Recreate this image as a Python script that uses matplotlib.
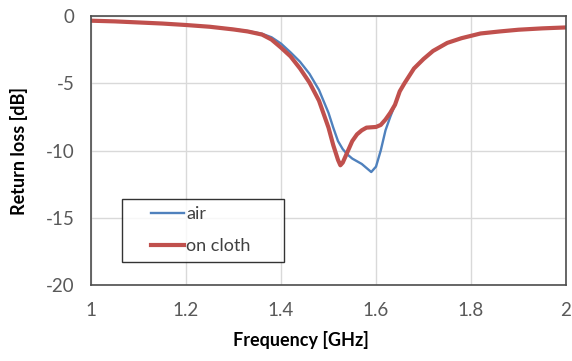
import matplotlib
matplotlib.use('Agg')
import matplotlib.pyplot as plt
from matplotlib.legend_handler import HandlerLine2D

# Данные
freq = [1.00, 1.05, 1.10, 1.15, 1.20, 1.25, 1.30, 1.33, 1.36, 1.38, 1.40, 1.42,
        1.44, 1.46, 1.48, 1.50, 1.51, 1.52, 1.53, 1.54, 1.55, 1.56, 1.57, 1.58,
        1.59, 1.60, 1.61, 1.62, 1.63, 1.64, 1.65, 1.66, 1.68, 1.70, 1.72, 1.75,
        1.78, 1.82, 1.86, 1.90, 1.95, 2.00]
air = [-0.35, -0.40, -0.48, -0.56, -0.67, -0.80, -0.98, -1.12, -1.32, -1.58, -2.05, -2.7,
       -3.4, -4.3, -5.5, -7.2, -8.3, -9.3, -9.9, -10.3, -10.6, -10.8, -11.0, -11.3,
       -11.6, -11.2, -10.0, -8.5, -7.5, -6.6, -5.6, -5.0, -3.9, -3.2, -2.6, -2.0,
       -1.65, -1.3, -1.15, -1.02, -0.92, -0.85]
freq_cloth = [1.00, 1.05, 1.10, 1.15, 1.20, 1.25, 1.30, 1.33, 1.36, 1.38, 1.40, 1.42,
              1.44, 1.46, 1.48, 1.50, 1.51, 1.52, 1.525, 1.53, 1.54, 1.55, 1.56, 1.57,
              1.58, 1.60, 1.61, 1.62, 1.63, 1.64, 1.65, 1.66, 1.68, 1.70, 1.72, 1.75,
              1.78, 1.82, 1.86, 1.90, 1.95, 2.00]
cloth = [-0.35, -0.40, -0.48, -0.56, -0.67, -0.80, -1.00, -1.15, -1.38, -1.75, -2.35, -3.0,
         -3.9, -4.95, -6.3, -8.3, -9.6, -10.7, -11.1, -10.9, -10.1, -9.3, -8.8, -8.5,
         -8.3, -8.25, -8.1, -7.7, -7.2, -6.6, -5.6, -5.0, -3.9, -3.2, -2.6, -2.0,
         -1.65, -1.3, -1.15, -1.02, -0.92, -0.85]
xticks = [1, 1.2, 1.4, 1.6, 1.8, 2]
xticklabels = ['1', '1.2', '1.4', '1.6', '1.8', '2']
yticks = [0, -5, -10, -15, -20]

plt.rcParams['font.family'] = ['Lato', 'DejaVu Sans']
plt.rcParams['axes.unicode_minus'] = False

fig = plt.figure(figsize=(5.72, 3.61), dpi=100)
ax = fig.add_axes([91 / 572, 76 / 361, 475 / 572, 269 / 361])

l1, = ax.plot(freq, air, color='#4F81BD', linewidth=1.7, label='air')
l2, = ax.plot(freq_cloth, cloth, color='#C0504D', linewidth=3, label='on cloth')

ax.set_xlim(1, 2)
ax.set_ylim(-20, 0)
ax.set_xticks(xticks)
ax.set_xticklabels(xticklabels)
ax.set_yticks(yticks)
ax.grid(True, color='#D9D9D9', linewidth=1)
ax.set_axisbelow(True)
ax.tick_params(length=0, labelsize=13.5, labelcolor='#595959', pad=12)
for s in ax.spines.values():
    s.set_color('#4D4D4D')
    s.set_linewidth(1.2)

fig.text(301 / 572, 1 - 340 / 361, 'Frequency [GHz]', ha='center', va='center',
         fontsize=13, fontweight='bold')
fig.text(19 / 572, 1 - 151 / 361, 'Return loss [dB]', ha='center', va='center',
         rotation=90, fontsize=13, fontweight='bold')

# отступ слева внутри легенды, как в Excel
hm = {l1: HandlerLine2D(xpad=1.2), l2: HandlerLine2D(xpad=1.2)}
leg = ax.legend(loc='lower left', bbox_to_anchor=((122 - 91) / 475, (285 - 262) / 269,
                                                  162 / 475, 68 / 269),
                mode='expand', borderaxespad=0, fontsize=13, frameon=True,
                fancybox=False, edgecolor='black', handlelength=3.0,
                handletextpad=0.15, borderpad=0.42, labelspacing=0.9,
                handler_map=hm)
leg.get_frame().set_linewidth(1)
for t in leg.get_texts():
    t.set_color('#404040')

fig.savefig('out.png', dpi=100)
